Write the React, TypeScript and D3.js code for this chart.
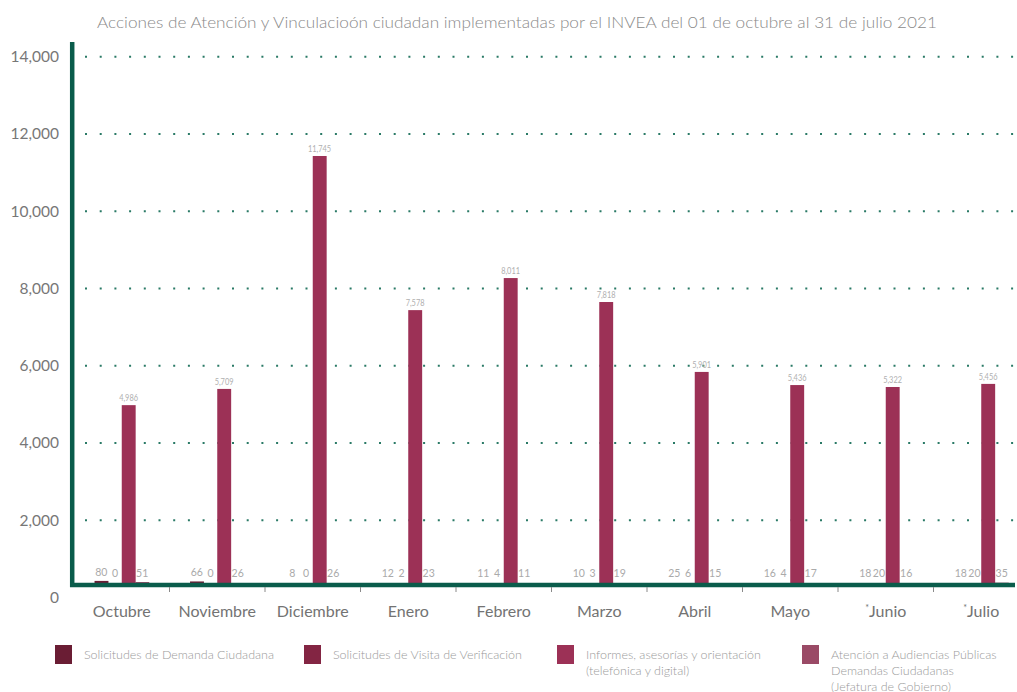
import React from "react";
import * as d3 from "d3";

const months = ["Octubre", "Noviembre", "Diciembre", "Enero", "Febrero", "Marzo", "Abril", "Mayo", "Junio", "Julio"];
const starred = ["Junio", "Julio"];
const seriesNames = [
  "Solicitudes de Demanda Ciudadana",
  "Solicitudes de Visita de Verificación",
  "Informes, asesorías y orientación (telefónica y digital)",
  "Atención a Audiencias Públicas Demandas Ciudadanas (Jefatura de Gobierno)",
];
const legendLines = [
  ["Solicitudes de Demanda Ciudadana"],
  ["Solicitudes de Visita de Verificación"],
  ["Informes, asesorías y orientación", "(telefónica y digital)"],
  ["Atención a Audiencias Públicas", "Demandas Ciudadanas", "(Jefatura de Gobierno)"],
];
const seriesColors = ["#6a1d34", "#832543", "#9c3156", "#9a4a66"];

const demanda = [80, 66, 8, 12, 11, 10, 25, 16, 18, 18];
const visita = [0, 0, 0, 2, 4, 3, 6, 4, 20, 20];
// bar heights as drawn in the picture
const informes = [4630, 5050, 11080, 7090, 7920, 7300, 5490, 5150, 5100, 5180];
// labels printed on the picture above the Informes bars
const informesLabels = ["4,986", "5,709", "11,745", "7,578", "8,011", "7,818", "5,901", "5,436", "5,322", "5,456"];
const atencion = [51, 26, 26, 23, 11, 19, 15, 17, 16, 35];
const yTicks = [0, 2000, 4000, 6000, 8000, 10000, 12000, 14000];

const title = "Acciones de Atención y Vinculacioón ciudadan implementadas por el INVEA del 01 de octubre al 31 de julio 2021";

const W = 1017;
const H = 692;
const FONT = "Lato, 'Open Sans', sans-serif";
const AXIS = "#0a5c4b";

export default function App() {
  const y = d3.scaleLinear().domain([0, 14000]).range([597.5, 56.7]);
  const BASE = 584;
  const yBar = d3.scaleLinear().domain([0, 14000]).range([BASE, BASE - (597.5 - 56.7)]);
  const pIn = 0.43;
  const x = d3.scaleBand<string>().domain(months).range([74, 1029]).paddingInner(pIn).paddingOuter(pIn / 2);
  const step = x.step();
  const data = [demanda, visita, informes, atencion];
  const xs = d3.scaleBand<number>().domain([0, 1, 2, 3]).range([0, x.bandwidth()]).padding(0);
  const fmt = d3.format(",");

  return (
    <svg width={W} height={H} style={{ position: "absolute", left: 0, top: 0, background: "#fff" }} fontFamily={FONT}>
      <text x={517} y={28} textAnchor="middle" fontSize={16} fill="#8a8a8a" fontWeight={300} textLength={840} lengthAdjust="spacingAndGlyphs">
        {title}
      </text>
      {yTicks.filter((t) => t > 0).map((t) => (
        <line key={t} x1={85} x2={1017} y1={y(t)} y2={y(t)} stroke="#2a7a66" strokeWidth={2} strokeDasharray="2 12.7" />
      ))}
      {yTicks.map((t) => (
        <text key={t} x={59} y={y(t) + 5.5} textAnchor="end" fontSize={15.5} fill="#777">
          {fmt(t)}
        </text>
      ))}
      {months.map((m, i) => (
        <g key={m} transform={`translate(${x(m)},0)`}>
          {data.map((s, j) => {
            const top = yBar(s[i]);
            return (
              <rect key={j} x={xs(j)} y={top} width={xs.bandwidth() + 0.3} height={BASE + 1 - top} fill={seriesColors[j]} />
            );
          })}
          {data.map((s, j) => {
            const top = yBar(s[i]);
            const cx = (xs(j) as number) + xs.bandwidth() / 2;
            if (j === 2) {
              return (
                <text key={"l" + j} transform={`translate(${cx},${top - 4}) scale(0.78,1)`} textAnchor="middle" fontSize={9.5} fill="#b0b0b0">
                  {informesLabels[i]}
                </text>
              );
            }
            return (
              <text key={"l" + j} x={cx} y={Math.min(top, BASE - 2) - 5} textAnchor="middle" fontSize={10.5} fill="#aaa">
                {s[i]}
              </text>
            );
          })}
        </g>
      ))}
      <line x1={72.2} x2={72.2} y1={42} y2={587} stroke={AXIS} strokeWidth={4.5} />
      <line x1={70} x2={1015} y1={585} y2={585} stroke={AXIS} strokeWidth={4.5} />
      {months.slice(1).map((m) => {
        const bx = (x(m) as number) - step * pIn / 2;
        return <line key={m} x1={bx} x2={bx} y1={587} y2={592} stroke="#8a8a8a" strokeWidth={1} />;
      })}
      {months.map((m) => {
        const cx = (x(m) as number) + x.bandwidth() / 2;
        return (
          <text key={m} x={cx} y={617} textAnchor="middle" fontSize={16} fill="#737373">
            {starred.includes(m) ? <tspan fontSize={9} dy={-6}>*</tspan> : null}
            {starred.includes(m) ? <tspan dy={6}>{m}</tspan> : m}
          </text>
        );
      })}
      {seriesNames.map((n, i) => {
        const lx = [55, 304, 557, 802][i];
        return (
          <g key={n}>
            <rect x={lx} y={645} width={17} height={19} fill={seriesColors[i]} />
            {legendLines[i].map((ln, k) => (
              <text key={k} x={lx + 29} y={658.5 + k * 16} fontSize={12.5} fill="#9a9a9a" fontWeight={300}>
                {ln}
              </text>
            ))}
          </g>
        );
      })}
    </svg>
  );
}
